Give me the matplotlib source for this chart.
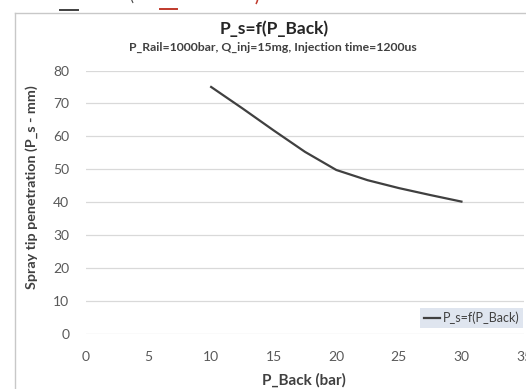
import matplotlib
matplotlib.use("Agg")
import matplotlib.pyplot as plt
from matplotlib.lines import Line2D

plt.rcParams['font.family'] = ['Lato', 'DejaVu Sans']

p_back = [10, 12.5, 15, 17.5, 20, 22.5, 25, 27.5, 30]
p_s = [75, 68.5, 61.8, 55.3, 49.8, 46.7, 44.3, 42.2, 40.2]
x_ticks = [0, 5, 10, 15, 20, 25, 30, 35]
y_ticks = [0, 10, 20, 30, 40, 50, 60, 70, 80]

title = "P_s=f(P_Back)"
subtitle = "P_Rail=1000bar, Q_inj=15mg, Injection time=1200us"
xlabel = "P_Back (bar)"
ylabel = "Spray tip penetration (P_s - mm)"
series_name = "P_s=f(P_Back)"

W, H = 526, 389
fig = plt.figure(figsize=(W / 100, H / 100), dpi=100)
fig.patch.set_facecolor('white')

def fx(px):
    return px / W

def fy(py):
    return 1 - py / H

# chart-area frame (left and top edges visible)
fig.add_artist(Line2D([fx(15), fx(15)], [fy(13), 0], transform=fig.transFigure,
                      color='#c8c8c8', lw=1.0))
fig.add_artist(Line2D([fx(15), 1], [fy(13), fy(13)], transform=fig.transFigure,
                      color='#c8c8c8', lw=1.0))
# cropped fragments above the chart
fig.add_artist(Line2D([fx(60), fx(78)], [fy(10), fy(10)], transform=fig.transFigure,
                      color='#404040', lw=1.4))
fig.add_artist(Line2D([fx(160), fx(177)], [fy(9), fy(9)], transform=fig.transFigure,
                      color='#c0392b', lw=1.4))
fig.text(fx(131), fy(-3), "(", ha='center', va='center', fontsize=11, color='#404040')
fig.text(fx(257), fy(-3), ")", ha='center', va='center', fontsize=11, color='#c0392b',
         fontweight='bold')

ax = fig.add_axes([fx(86), fy(334), fx(524) - fx(86), fy(70.5) - fy(334)])
ax.plot(p_back, p_s, color='#404040', lw=1.6, label=series_name,
        solid_joinstyle='round')
ax.set_xlim(0, 35)
ax.set_ylim(0, 80)
ax.set_xticks(x_ticks)
ax.set_yticks(y_ticks)
ax.set_xticklabels([str(v) for v in x_ticks])
ax.set_yticklabels([str(v) for v in y_ticks])
ax.tick_params(length=0, labelsize=10, colors='#595959')
ax.tick_params(axis='x', pad=12)
ax.tick_params(axis='y', pad=12)
for s in ax.spines.values():
    s.set_visible(False)
ax.grid(axis='y', color='#d9d9d9', lw=0.9)
ax.set_axisbelow(True)

fig.text(fx(274), fy(29), title, ha='center', va='center', fontsize=12.5,
         fontweight='bold', color='#262626')
fig.text(fx(273), fy(47), subtitle, ha='center', va='center', fontsize=8.8,
         fontweight='bold', color='#404040')
fig.text(fx(304), fy(380), xlabel, ha='center', va='center', fontsize=11,
         fontweight='bold', color='#404040')
fig.text(fx(32), fy(187), ylabel, ha='center', va='center', fontsize=10.3,
         fontweight='bold', color='#404040', rotation=90)

leg = ax.legend(loc='lower right', bbox_to_anchor=(fx(523), fy(328)),
                bbox_transform=fig.transFigure, fontsize=9, frameon=True,
                fancybox=False, handlelength=1.3, handletextpad=0.2,
                borderpad=0.3, borderaxespad=0)
leg.get_frame().set_facecolor('#dfe5ef')
leg.get_frame().set_edgecolor('none')
leg.get_frame().set_alpha(1)
for t in leg.get_texts():
    t.set_color('#404040')

fig.savefig("out.png", dpi=100)
